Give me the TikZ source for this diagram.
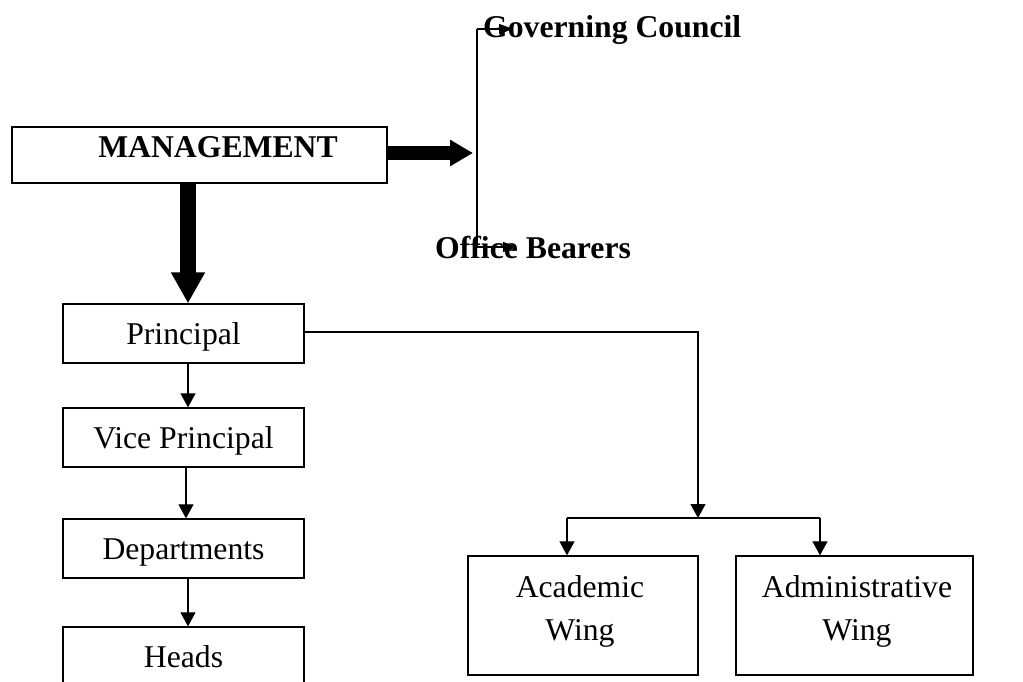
\documentclass[tikz,border=0pt]{standalone}
\usepackage{fontspec}
\setmainfont{Liberation Serif}
\usetikzlibrary{arrows.meta}
\begin{document}
\begin{tikzpicture}[x=1pt,y=-1pt,
  txt/.style={inner sep=0pt,font=\fontsize{31.7}{43}\selectfont},
  btxt/.style={inner sep=0pt,font=\fontsize{31.7}{43}\selectfont\bfseries},
  box/.style={draw,line width=1.3pt,minimum width=241pt,minimum height=59pt,inner sep=0pt,
    text height=21.5pt,text depth=0pt,font=\fontsize{31.7}{43}\selectfont},
  plainbox/.style={draw,line width=1.3pt,inner sep=0pt},
  conn/.style={line width=1.2pt},
  arr/.style={line width=1.2pt,-{Triangle[width=15pt,length=14pt]}},
  smallarr/.style={line width=1.2pt,-{Triangle[width=10pt,length=14pt]}},
  bigdown/.style={line width=16pt,-{Triangle[width=32pt,length=31pt]}},
  bigright/.style={line width=14pt,-{Triangle[width=25pt,length=23pt]}}
]
\useasboundingbox (0,0) rectangle (1023,682);
\clip (0,0) rectangle (1023,682);

% Management
\node[plainbox,minimum width=375pt,minimum height=56pt] (mgmt) at (199.5,155) {};
\node[btxt,anchor=base] (mgmtl) at (218,158) {MANAGEMENT};

% Right branch
\coordinate (sp1) at (477,29);
\coordinate (sp2) at (477,247);
\coordinate (spm) at (473,153);
\coordinate (gct) at (513,29);
\coordinate (obt) at (517,247);
\node[btxt,anchor=base west] (gc) at (483,38) {Governing Council};
\node[btxt,anchor=base west] (ob) at (435,258) {Office Bearers};
\draw[bigright] ([yshift=2pt]mgmt.east) -- (spm);
\draw[conn] (sp1) -- (sp2);
\draw[smallarr] (sp1) -- (gct);
\draw[smallarr] (sp2) -- (obt);

% Left column
\node[box] (prin) at (183.5,333.5) {Principal};
\node[box] (vp) at (183.5,437.5) {Vice Principal};
\node[box] (dept) at (183.5,548.5) {Departments};
\node[box] (heads) at (183.5,656.5) {Heads};

\draw[bigdown] ([xshift=-11.5pt]mgmt.south) -- ([xshift=4.5pt]prin.north);
\draw[arr] ([xshift=4.5pt]prin.south) -- ([xshift=4.5pt]vp.north);
\draw[arr] ([xshift=2.5pt]vp.south) -- ([xshift=2.5pt]dept.north);
\draw[arr] ([xshift=4.5pt]dept.south) -- ([xshift=4.5pt]heads.north);

% Wings
\node[plainbox,minimum width=230pt,minimum height=119pt] (acad) at (583,615.5) {};
\node[plainbox,minimum width=237pt,minimum height=119pt] (admin) at (854.5,615.5) {};
\node[txt,align=center] (acadl) at (580,611) {Academic\\Wing};
\node[txt,align=center] (adminl) at (857,611) {Administrative\\Wing};

\coordinate (busc) at (698,518);
\coordinate (busl) at (567,518);
\coordinate (busr) at (820,518);
\draw[arr] ([yshift=1.5pt]prin.east) -| (busc);
\draw[conn] (busl) -- (busr);
\draw[arr] (busl) -- (busl |- acad.north);
\draw[arr] (busr) -- (busr |- admin.north);
\end{tikzpicture}
\end{document}
